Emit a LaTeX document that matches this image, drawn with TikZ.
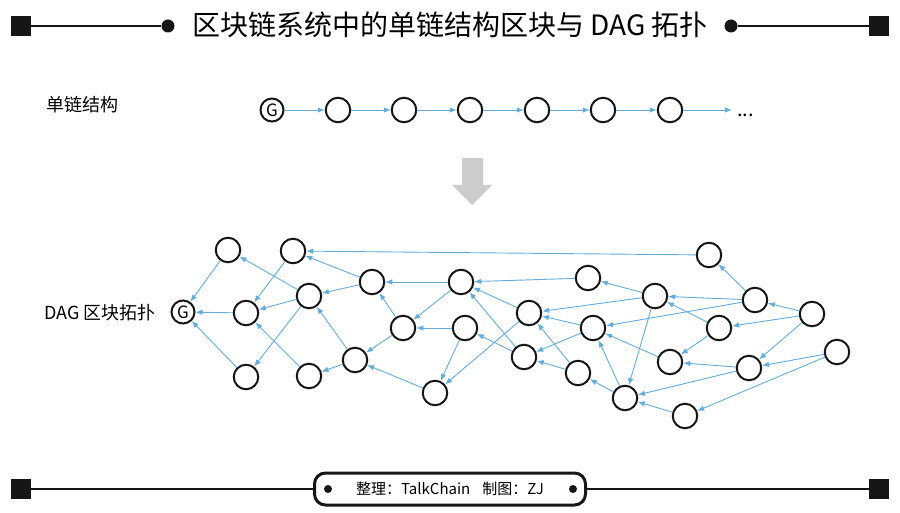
\documentclass[tikz,border=0pt]{standalone}
\usepackage{fontspec}
\setmainfont{Noto Sans CJK SC}
\usetikzlibrary{arrows.meta}
\definecolor{linkblue}{RGB}{100,172,220}
\definecolor{arrowgray}{RGB}{204,204,204}
\definecolor{inkblack}{RGB}{22,22,22}

\begin{document}
\begin{tikzpicture}[x=1pt,y=-1pt,
    blk/.style={circle,draw=inkblack,line width=2pt,minimum size=24.5pt,inner sep=0pt},
    link/.style={draw=linkblue,line width=0.9pt,-{Latex[length=7pt,width=5.5pt]}},
    endsq/.style={fill=inkblack,minimum size=19.5pt,inner sep=0pt},
    enddot/.style={circle,fill=inkblack,minimum size=13pt,inner sep=0pt},
    bar/.style={draw=inkblack,line width=2.7pt}]

    \useasboundingbox (0,0) rectangle (900,513);

    % header
    \node[endsq] (hl) at (21,26) {};
    \node[enddot] (hld) at (168,26) {};
    \node[enddot] (hrd) at (731,26) {};
    \node[endsq] (hr) at (879,26) {};
    \draw[bar] (hl) -- (hld);
    \draw[bar] (hrd) -- (hr);
    \node (title) at (450,25) {\fontsize{28}{32}\selectfont 区块链系统中的单链结构区块与 DAG 拓扑};

    % single chain
    \node (chainlbl) at (82,105) {\fontsize{18}{22}\selectfont 单链结构};
    \node[blk,minimum size=23pt] (c0) at (272,110) {\fontsize{17}{18}\selectfont G};
    \foreach \i/\x in {1/338,2/404,3/470,4/537,5/603,6/670}
        \node[blk] (c\i) at (\x,110) {};
    \foreach \i/\j in {0/1,1/2,2/3,3/4,4/5,5/6}
        \draw[link] (c\i) -- (c\j);
    \coordinate (cend) at (732,110);
    \draw[link] (c6) -- (cend);
    \node[anchor=base west,inner sep=0pt] (more) at (737,117) {\fontsize{20}{22}\selectfont ...};

    % gray arrow
    \fill[arrowgray] (462,158) -- (483,158) -- (483,185) -- (492,185) -- (472,205) -- (452,185) -- (462,185) -- cycle;

    % DAG
    \node (daglbl) at (100,313) {\fontsize{18}{22}\selectfont DAG 区块拓扑};
    \node[blk,minimum size=23pt] (g) at (183,312) {\fontsize{17}{18}\selectfont G};
    \foreach \n/\x/\y in {d1/228/250,d2/293/251,d3/246/313,d4/309/296,d5/246/377,
        d6/309/376,d7/372/282,d8/403/328,d9/355/360,d10/461/282,d11/465/328,
        d12/435/393,d13/529/313,d14/524/357,d15/578/373,d16/588/278,d17/593/328,
        d18/625/398,d19/655/296,d20/670/362,d21/685/416,d22/709/255,d23/719/328,
        d24/755/300,d25/749/368,d26/812/314,d27/837/352}
        \node[blk] (\n) at (\x,\y) {};
    \foreach \a/\b in {d1/g,d3/g,d5/g,d2/d3,d4/d1,d4/d3,d4/d5,d7/d2,d7/d4,d22/d2,
        d10/d7,d8/d7,d8/d9,d9/d4,d9/d6,d6/d3,d12/d9,d10/d8,d16/d10,d11/d8,
        d11/d12,d13/d10,d14/d10,d14/d11,d13/d12,d19/d13,d17/d13,d15/d13,d17/d14,
        d15/d14,d19/d16,d24/d19,d23/d19,d19/d18,d24/d17,d20/d17,d23/d20,d25/d20,
        d18/d15,d18/d17,d25/d18,d21/d18,d27/d21,d24/d22,d26/d24,d26/d23,d26/d25,
        d27/d25}
        \draw[link] (\a) -- (\b);

    % footer
    \node[endsq] (fl) at (21,489) {};
    \node[endsq] (fr) at (879,489) {};
    \node[draw=inkblack,line width=3pt,rounded corners=11pt,minimum width=271pt,
        minimum height=32pt] (credit) at (450,489)
        {\fontsize{15}{18}\selectfont 整理：TalkChain\hspace{0.8em}制图：ZJ};
    \node[circle,fill=inkblack,minimum size=8pt,inner sep=0pt] (fld) at (328,489) {};
    \node[circle,fill=inkblack,minimum size=8pt,inner sep=0pt] (frd) at (573,489) {};
    \draw[bar] (fl) -- (credit);
    \draw[bar] (credit) -- (fr);
\end{tikzpicture}
\end{document}
